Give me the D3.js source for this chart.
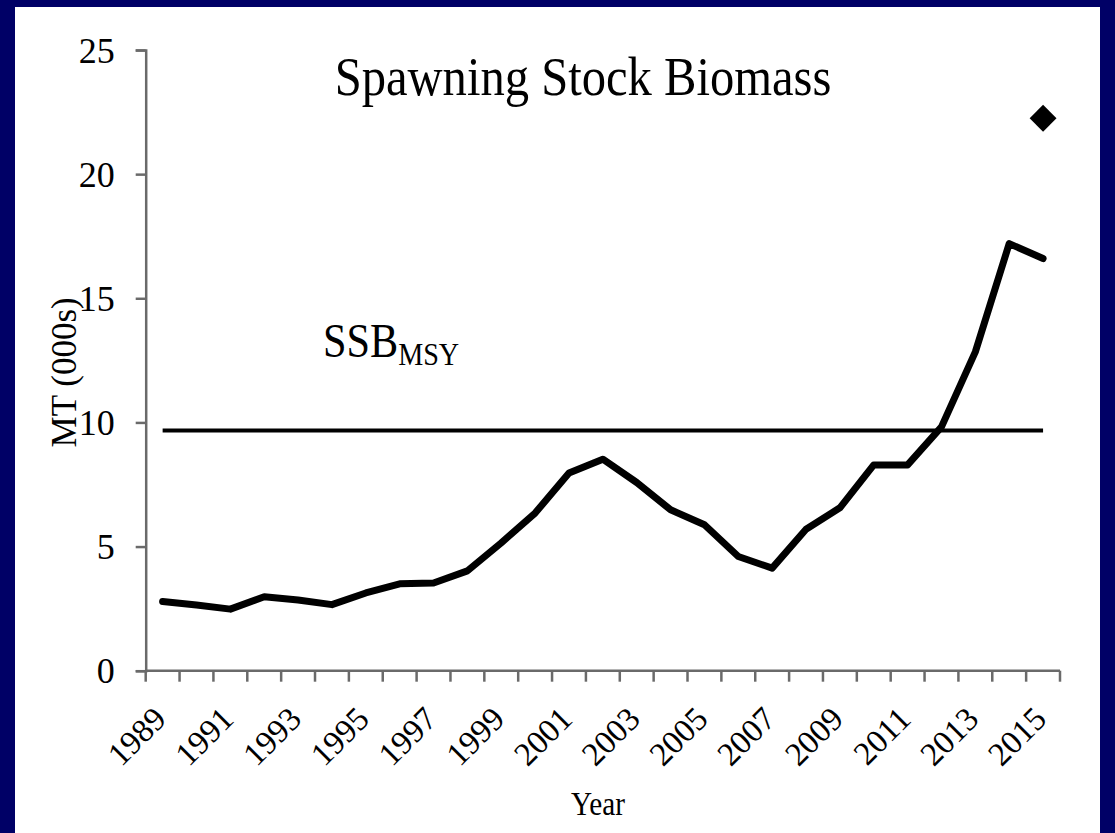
<!DOCTYPE html>
<html>
<head>
<meta charset="utf-8">
<script src="https://cdn.jsdelivr.net/npm/d3@7"></script>
<style>
  body { margin: 0; background: #000066; }
  svg text { font-family: "Liberation Serif", "Times New Roman", serif; fill: #000; }
</style>
</head>
<body>
<script>
// categories (years) and values, MT (000s)
const years = [1989, 1990, 1991, 1992, 1993, 1994, 1995, 1996, 1997, 1998,
               1999, 2000, 2001, 2002, 2003, 2004, 2005, 2006, 2007, 2008,
               2009, 2010, 2011, 2012, 2013, 2014, 2015];
const ssb = [2.79, 2.65, 2.48, 2.98, 2.85, 2.66, 3.13, 3.50, 3.53, 4.02,
             5.15, 6.35, 7.96, 8.52, 7.58, 6.48, 5.88, 4.60, 4.13, 5.70,
             6.56, 8.29, 8.29, 9.82, 12.84, 17.20, 16.60];
const ssbMsy = 9.67;
const projected = [{ year: 2015, value: 22.25 }];
const yTicks = [0, 5, 10, 15, 20, 25];
const yearLabels = years.filter((d, i) => i % 2 === 0);

const width = 1115, height = 833;

const svg = d3.select("body").append("svg")
    .attr("width", width)
    .attr("height", height);

// navy frame + white slide area
svg.append("rect").attr("width", width).attr("height", height).attr("fill", "#000066");
svg.append("rect").attr("x", 15).attr("y", 7).attr("width", 1085).attr("height", height - 7).attr("fill", "#fff");

const x = d3.scaleBand().domain(years).range([145.7, 1060]);
const y = d3.scaleLinear().domain([0, 25]).range([670.7, 50]);
const cx = d => x(d) + x.bandwidth() / 2;

const axisColor = "#6a6a6a";

// y axis
const yAxis = svg.append("g")
    .attr("transform", `translate(${x.range()[0]},0)`)
    .call(d3.axisLeft(y).tickValues(yTicks).tickSize(10).tickPadding(21).tickFormat(d3.format("d")));
yAxis.select(".domain").attr("stroke", axisColor).attr("stroke-width", 2.5);
yAxis.selectAll(".tick line").attr("stroke", axisColor).attr("stroke-width", 2.5);
yAxis.selectAll(".tick text")
    .style("font-size", "36px")
    .attr("dy", "0.34em");

// x axis: ticks between categories, labels every other year
const xAxis = svg.append("g")
    .attr("transform", `translate(0,${y(0)})`);
xAxis.append("line")
    .attr("x1", x.range()[0]).attr("x2", x.range()[1])
    .attr("stroke", axisColor).attr("stroke-width", 2.5);
xAxis.selectAll(".xtick")
    .data(years.map(d => x(d)).concat([x.range()[1]]))
    .enter().append("line")
    .attr("class", "xtick")
    .attr("x1", d => d).attr("x2", d => d)
    .attr("y1", 0).attr("y2", 11)
    .attr("stroke", axisColor).attr("stroke-width", 2.5);
xAxis.selectAll(".xlabel")
    .data(yearLabels)
    .enter().append("text")
    .attr("class", "xlabel")
    .attr("text-anchor", "end")
    .attr("dy", "0.35em")
    .attr("transform", d => `translate(${cx(d) - 3},42) rotate(-45)`)
    .style("font-size", "33px")
    .text(d => d);

// SSB MSY reference line
svg.append("line")
    .attr("x1", cx(years[0])).attr("x2", cx(years[years.length - 1]))
    .attr("y1", y(ssbMsy)).attr("y2", y(ssbMsy))
    .attr("stroke", "#000").attr("stroke-width", 4);

// SSB series
const line = d3.line()
    .x((d, i) => cx(years[i]))
    .y(d => y(d));

svg.append("path")
    .datum(ssb)
    .attr("fill", "none")
    .attr("stroke", "#000")
    .attr("stroke-width", 7)
    .attr("stroke-linejoin", "round")
    .attr("stroke-linecap", "round")
    .attr("d", line);

// projected point (diamond)
svg.selectAll(".proj")
    .data(projected)
    .enter().append("path")
    .attr("class", "proj")
    .attr("d", d3.symbol().type(d3.symbolSquare).size(361))
    .attr("transform", d => `translate(${cx(d.year)},${y(d.value)}) rotate(45)`)
    .attr("fill", "#000");

// title
svg.append("text")
    .attr("text-anchor", "middle")
    .attr("transform", "translate(583,95) scale(0.9,1)")
    .style("font-size", "54px")
    .text("Spawning Stock Biomass");

// SSB_MSY label
const lab = svg.append("text")
    .attr("transform", "translate(323,357) scale(0.88,1)")
    .style("font-size", "48px");
lab.append("tspan").text("SSB");
lab.append("tspan").attr("dy", 8).style("font-size", "32px").text("MSY");

// axis titles
svg.append("text")
    .attr("text-anchor", "middle")
    .attr("transform", `translate(76,${(y(25) + y(0)) / 2 + 12}) rotate(-90)`)
    .style("font-size", "35px")
    .text("MT (000s)");

svg.append("text")
    .attr("text-anchor", "middle")
    .attr("transform", "translate(598,815) scale(0.86,1)")
    .style("font-size", "34px")
    .text("Year");
</script>
</body>
</html>
